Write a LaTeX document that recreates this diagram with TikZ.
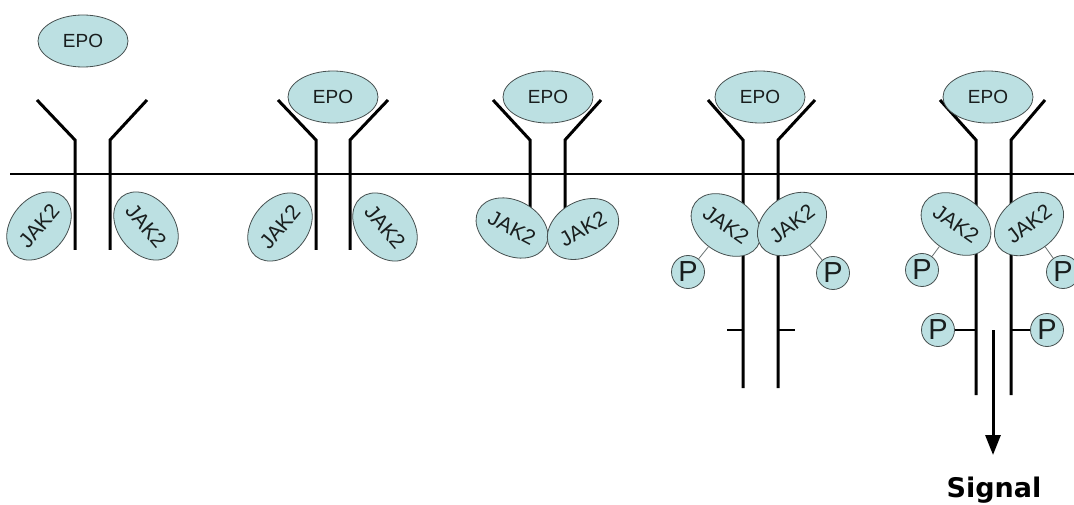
\documentclass[tikz,border=0pt]{standalone}
\usepackage{fontspec}
\setmainfont{Liberation Sans}
\newfontfamily\sigfont{DejaVu Sans}
\usetikzlibrary{shapes.geometric,arrows.meta}
\definecolor{molfill}{RGB}{188,224,226}
\definecolor{molline}{RGB}{70,80,80}
\definecolor{txt}{RGB}{25,30,30}
\begin{document}
\begin{tikzpicture}[x=1pt,y=-1pt,
 mol/.style={ellipse,draw=molline,fill=molfill,line width=0.8pt,inner sep=0pt,text=txt},
 epo/.style={mol,minimum width=90pt,minimum height=52pt,font=\fontsize{19}{19}\selectfont},
 jak/.style={mol,minimum width=76pt,minimum height=55pt,font=\fontsize{21}{21}\selectfont},
 phos/.style={circle,draw=molline,fill=molfill,line width=0.8pt,inner sep=0pt,minimum size=33pt,text=txt,font=\fontsize{29}{29}\selectfont},
 rec/.style={line width=3pt},
 link/.style={line width=0.8pt,draw=molline!80},
 tick/.style={line width=1.2pt}
]
\clip (0,0) rectangle (1074,505);
\fill[white] (0,0) rectangle (1074,505);

% membrane
\coordinate (mA) at (10,174);
\coordinate (mB) at (1074,174);
\draw[line width=2pt] (mA) -- (mB);

% receptors
\draw[rec] (37,100) -- (75,140) -- (75,250);
\draw[rec] (147,100) -- (110,140) -- (110,250);
\draw[rec] (278,100) -- (316,140) -- (316,250);
\draw[rec] (388,100) -- (350,140) -- (350,250);
\draw[rec] (493,100) -- (530,140) -- (530,215);
\draw[rec] (601,100) -- (565,140) -- (565,215);
\draw[rec] (708,100) -- (743,140) -- (743,388);
\draw[rec] (815,100) -- (778,140) -- (778,388);
\draw[rec] (940,100) -- (976,140) -- (976,395);
\draw[rec] (1045,100) -- (1011,140) -- (1011,395);

% EPO
\node[epo] (e1) at (83,41) {EPO};
\node[epo] (e2) at (333,97) {EPO};
\node[epo] (e3) at (548,97) {EPO};
\node[epo] (e4) at (760,97) {EPO};
\node[epo] (e5) at (988,97) {EPO};

% JAK2
\node[jak,rotate=50] (j1l) at (39,226) {JAK2};
\node[jak,rotate=-50] (j1r) at (146,226) {JAK2};
\node[jak,rotate=50] (j2l) at (280,227) {JAK2};
\node[jak,rotate=-50] (j2r) at (385,227) {JAK2};
\node[jak,rotate=-28] (j3l) at (512,228) {JAK2};
\node[jak,rotate=30] (j3r) at (583,229) {JAK2};
\node[jak,rotate=-35] (j4l) at (726,225) {JAK2};
\node[jak,rotate=37] (j4r) at (792,224) {JAK2};
\node[jak,rotate=-35] (j5l) at (956,224) {JAK2};
\node[jak,rotate=37] (j5r) at (1029,224) {JAK2};

% phosphates
\node[phos] (p4l) at (688,272) {P};
\node[phos] (p4r) at (833,273) {P};
\node[phos] (p5l) at (922,270) {P};
\node[phos] (p5r) at (1063,272) {P};
\node[phos] (p5a) at (938,330) {P};
\node[phos] (p5b) at (1047,330) {P};
\draw[link] (j4l) -- (p4l);
\draw[link] (j4r) -- (p4r);
\draw[link] (j5l) -- (p5l);
\draw[link] (j5r) -- (p5r);

\coordinate (r5a) at (976,330);
\coordinate (r5b) at (1011,330);
\draw[tick] (p5a) -- (r5a);
\draw[tick] (p5b) -- (r5b);

% ticks on receptor 4
\coordinate (t4a) at (727,330);
\coordinate (t4b) at (743,330);
\coordinate (t4c) at (778,330);
\coordinate (t4d) at (795,330);
\draw[tick] (t4a) -- (t4b);
\draw[tick] (t4c) -- (t4d);

% signal
\node[font=\sigfont\bfseries\fontsize{27}{27}\selectfont,text=black] (sig) at (994,490) {Signal};
\coordinate (sA) at (993,330);
\coordinate (sB) at (993,455);
\draw[line width=3pt,-{Triangle[width=15pt,length=20pt]}] (sA) -- (sB);
\end{tikzpicture}
\end{document}
